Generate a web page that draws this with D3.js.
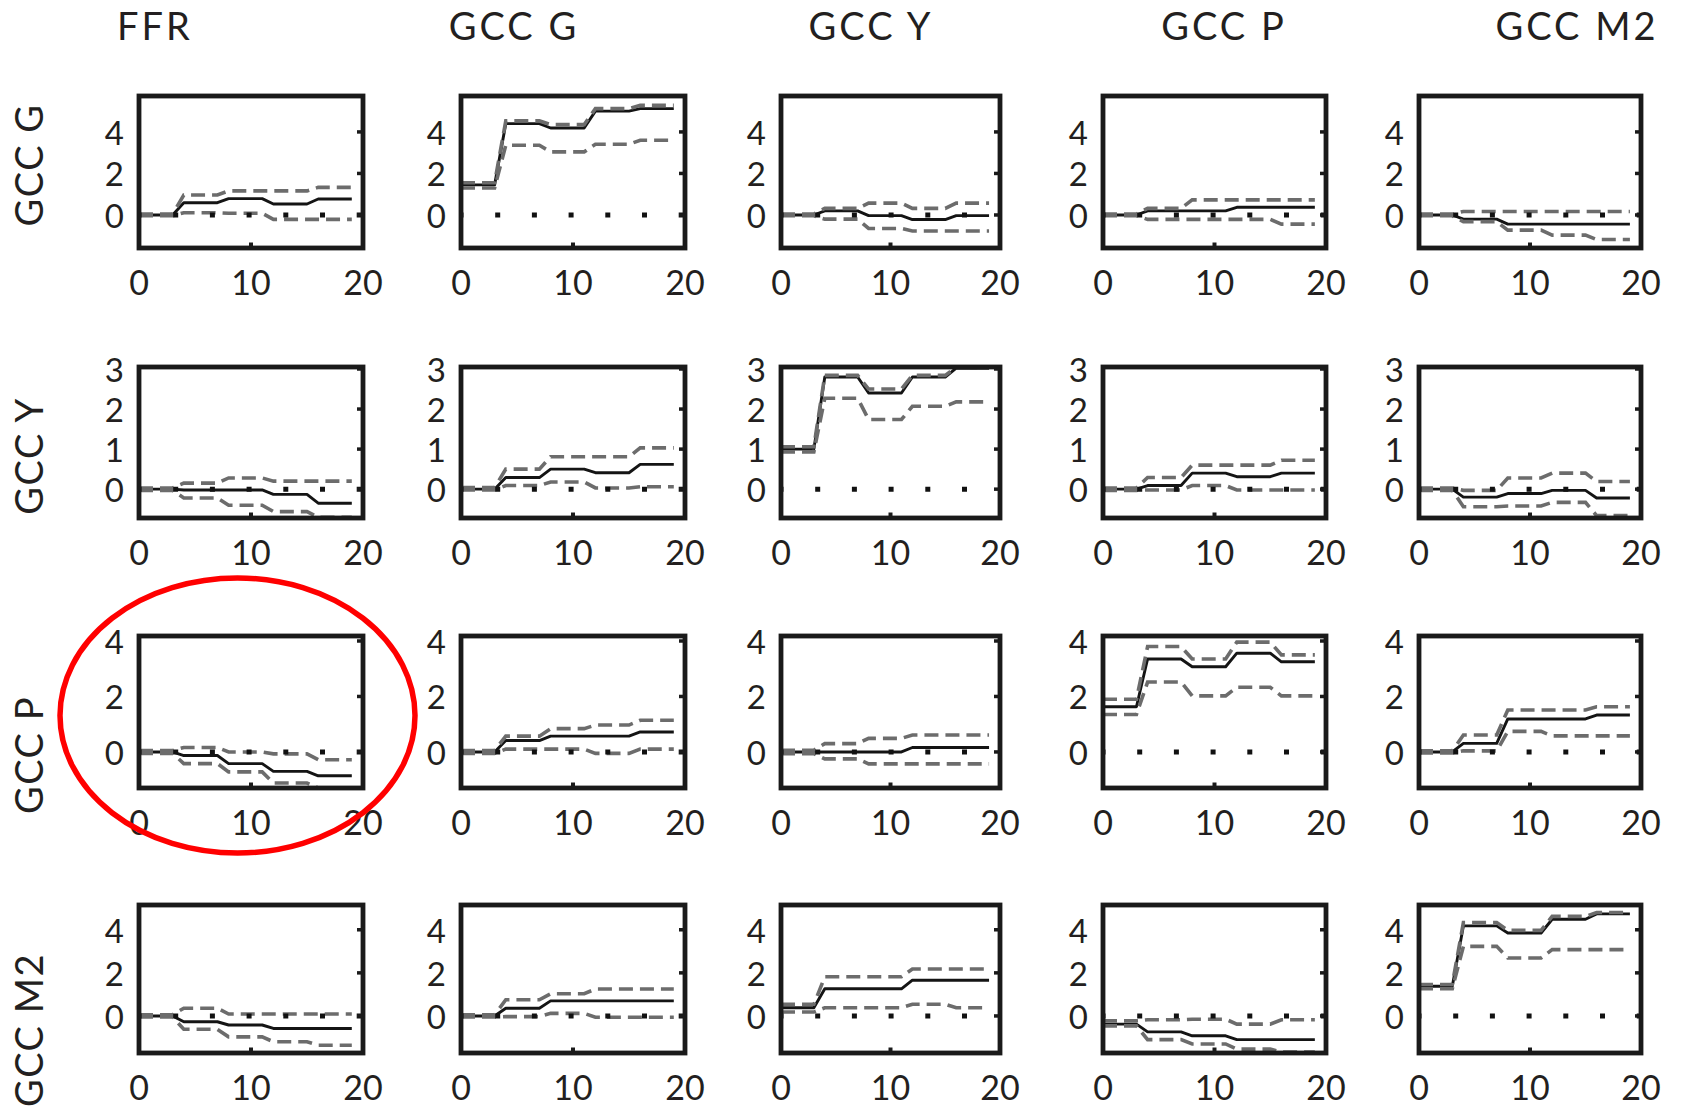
<!DOCTYPE html>
<html><head><meta charset="utf-8">
<script src="https://cdn.jsdelivr.net/npm/d3@7"></script>
<style>
body{margin:0;background:#fff}
svg{display:block}
text{font-family:Lato,"Open Sans",sans-serif;fill:#231f20}
</style>
</head><body>
<svg id="chart" width="1682" height="1113"></svg>
<script>
// ---------------- data ----------------
const shockLabels = ["FFR", "GCC G", "GCC Y", "GCC P", "GCC M2"];
const responseLabels = ["GCC G", "GCC Y", "GCC P", "GCC M2"];
const horizons = [0,1,2,3,4,5,6,7,8,9,10,11,12,13,14,15,16,17,18,19];
const xTicks = [0, 10, 20];
const yTicksByRow = [[0,2,4],[0,1,2,3],[0,2,4],[0,2,4]];
const yDomainByRow = [[-1.59,5.73],[-0.72,3.05],[-1.3,4.18],[-1.72,5.15]];

// median responses, panel order: row (response) by column (shock)
const irfMid = [
 [0,0,0,0,0.59,0.59,0.59,0.59,0.79,0.79,0.79,0.79,0.53,0.53,0.53,0.53,0.77,0.77,0.77,0.77],
 [1.45,1.45,1.45,1.45,4.4,4.4,4.4,4.4,4.19,4.19,4.19,4.19,5.0,5.0,5.0,5.0,5.12,5.12,5.12,5.12],
 [0,0,0,0,0.2,0.2,0.2,0.2,-0.03,-0.03,-0.03,-0.03,-0.22,-0.22,-0.22,-0.22,-0.03,-0.03,-0.03,-0.03],
 [0,0,0,0,0.2,0.2,0.2,0.2,0.2,0.2,0.2,0.2,0.37,0.37,0.37,0.37,0.37,0.37,0.37,0.37],
 [0,0,0,0,-0.2,-0.2,-0.2,-0.2,-0.44,-0.44,-0.44,-0.44,-0.44,-0.44,-0.44,-0.44,-0.44,-0.44,-0.44,-0.44],
 [0,0,0,0,-0.02,-0.02,-0.02,-0.02,-0.02,-0.02,-0.02,-0.02,-0.13,-0.13,-0.13,-0.13,-0.35,-0.35,-0.35,-0.35],
 [0,0,0,0,0.29,0.29,0.29,0.29,0.5,0.5,0.5,0.5,0.41,0.41,0.41,0.41,0.62,0.62,0.62,0.62],
 [1.0,1.0,1.0,1.0,2.8,2.8,2.8,2.8,2.4,2.4,2.4,2.4,2.8,2.8,2.8,2.8,3.02,3.02,3.02,3.02],
 [0,0,0,0,0.09,0.09,0.09,0.09,0.4,0.4,0.4,0.4,0.31,0.31,0.31,0.31,0.4,0.4,0.4,0.4],
 [0,0,0,0,-0.2,-0.2,-0.2,-0.2,-0.11,-0.11,-0.11,-0.11,-0.03,-0.03,-0.03,-0.03,-0.22,-0.22,-0.22,-0.22],
 [0,0,0,0,-0.13,-0.13,-0.13,-0.13,-0.42,-0.42,-0.42,-0.42,-0.7,-0.7,-0.7,-0.7,-0.86,-0.86,-0.86,-0.86],
 [0,0,0,0,0.41,0.41,0.41,0.41,0.57,0.57,0.57,0.57,0.57,0.57,0.57,0.57,0.72,0.72,0.72,0.72],
 [0,0,0,0,0,0,0,0,0,0,0,0,0.16,0.16,0.16,0.16,0.16,0.16,0.16,0.16],
 [1.63,1.63,1.63,1.63,3.35,3.35,3.35,3.35,3.07,3.07,3.07,3.07,3.56,3.56,3.56,3.56,3.25,3.25,3.25,3.25],
 [0,0,0,0,0.31,0.31,0.31,0.31,1.19,1.19,1.19,1.19,1.19,1.19,1.19,1.19,1.33,1.33,1.33,1.33],
 [0,0,0,0,-0.27,-0.27,-0.27,-0.27,-0.42,-0.42,-0.42,-0.42,-0.58,-0.58,-0.58,-0.58,-0.58,-0.58,-0.58,-0.58],
 [0,0,0,0,0.36,0.36,0.36,0.36,0.7,0.7,0.7,0.7,0.7,0.7,0.7,0.7,0.7,0.7,0.7,0.7],
 [0.38,0.38,0.38,0.38,1.26,1.26,1.26,1.26,1.26,1.26,1.26,1.26,1.66,1.66,1.66,1.66,1.66,1.66,1.66,1.66],
 [-0.38,-0.38,-0.38,-0.38,-0.74,-0.74,-0.74,-0.74,-0.92,-0.92,-0.92,-0.92,-1.1,-1.1,-1.1,-1.1,-1.1,-1.1,-1.1,-1.1],
 [1.38,1.38,1.38,1.38,4.18,4.18,4.18,4.18,3.85,3.85,3.85,3.85,4.49,4.49,4.49,4.49,4.74,4.74,4.74,4.74]
];

// upper bands
const irfUpper = [
 [0.04,0.04,0.04,0.04,0.96,0.96,0.96,0.96,1.16,1.16,1.16,1.16,1.16,1.16,1.16,1.16,1.33,1.33,1.33,1.33],
 [1.55,1.55,1.55,1.55,4.53,4.53,4.53,4.53,4.35,4.35,4.35,4.35,5.12,5.12,5.12,5.12,5.28,5.28,5.28,5.28],
 [0.04,0.04,0.04,0.04,0.32,0.32,0.32,0.32,0.57,0.57,0.57,0.57,0.32,0.32,0.32,0.32,0.57,0.57,0.57,0.57],
 [0.04,0.04,0.04,0.04,0.32,0.32,0.32,0.32,0.73,0.73,0.73,0.73,0.73,0.73,0.73,0.73,0.73,0.73,0.73,0.73],
 [0.04,0.04,0.04,0.04,0.17,0.17,0.17,0.17,0.17,0.17,0.17,0.17,0.17,0.17,0.17,0.17,0.17,0.17,0.17,0.17],
 [0.03,0.03,0.03,0.03,0.15,0.15,0.15,0.15,0.28,0.28,0.28,0.28,0.2,0.2,0.2,0.2,0.2,0.2,0.2,0.2],
 [0.04,0.04,0.04,0.04,0.5,0.5,0.5,0.5,0.81,0.81,0.81,0.81,0.81,0.81,0.81,0.81,1.03,1.03,1.03,1.03],
 [1.06,1.06,1.06,1.06,2.84,2.84,2.84,2.84,2.5,2.5,2.5,2.5,2.84,2.84,2.84,2.84,3.04,3.04,3.04,3.04],
 [0.03,0.03,0.03,0.03,0.29,0.29,0.29,0.29,0.6,0.6,0.6,0.6,0.6,0.6,0.6,0.6,0.72,0.72,0.72,0.72],
 [0.03,0.03,0.03,0.03,-0.03,-0.03,-0.03,-0.03,0.28,0.28,0.28,0.28,0.4,0.4,0.4,0.4,0.19,0.19,0.19,0.19],
 [0.05,0.05,0.05,0.05,0.16,0.16,0.16,0.16,0,0,0,0,-0.07,-0.07,-0.07,-0.07,-0.28,-0.28,-0.28,-0.28],
 [0.05,0.05,0.05,0.05,0.57,0.57,0.57,0.57,0.84,0.84,0.84,0.84,0.97,0.97,0.97,0.97,1.14,1.14,1.14,1.14],
 [0.06,0.06,0.06,0.06,0.3,0.3,0.3,0.3,0.49,0.49,0.49,0.49,0.61,0.61,0.61,0.61,0.61,0.61,0.61,0.61],
 [1.9,1.9,1.9,1.9,3.8,3.8,3.8,3.8,3.35,3.35,3.35,3.35,3.96,3.96,3.96,3.96,3.5,3.5,3.5,3.5],
 [0.04,0.04,0.04,0.04,0.61,0.61,0.61,0.61,1.51,1.51,1.51,1.51,1.51,1.51,1.51,1.51,1.63,1.63,1.63,1.63],
 [0.05,0.05,0.05,0.05,0.36,0.36,0.36,0.36,0.09,0.09,0.09,0.09,0.09,0.09,0.09,0.09,0.09,0.09,0.09,0.09],
 [0.05,0.05,0.05,0.05,0.75,0.75,0.75,0.75,1.03,1.03,1.03,1.03,1.25,1.25,1.25,1.25,1.25,1.25,1.25,1.25],
 [0.54,0.54,0.54,0.54,1.82,1.82,1.82,1.82,1.82,1.82,1.82,1.82,2.18,2.18,2.18,2.18,2.18,2.18,2.18,2.18],
 [-0.23,-0.23,-0.23,-0.23,-0.18,-0.18,-0.18,-0.18,-0.15,-0.15,-0.15,-0.15,-0.38,-0.38,-0.38,-0.38,-0.18,-0.18,-0.18,-0.18],
 [1.46,1.46,1.46,1.46,4.34,4.34,4.34,4.34,3.97,3.97,3.97,3.97,4.62,4.62,4.62,4.62,4.8,4.8,4.8,4.8]
];

// lower bands
const irfLower = [
 [-0.04,-0.04,-0.04,-0.04,0.11,0.11,0.11,0.11,0.08,0.08,0.08,0.08,-0.21,-0.21,-0.21,-0.21,-0.21,-0.21,-0.21,-0.21],
 [1.3,1.3,1.3,1.3,3.36,3.36,3.36,3.36,3.04,3.04,3.04,3.04,3.41,3.41,3.41,3.41,3.6,3.6,3.6,3.6],
 [-0.04,-0.04,-0.04,-0.04,-0.2,-0.2,-0.2,-0.2,-0.65,-0.65,-0.65,-0.65,-0.77,-0.77,-0.77,-0.77,-0.77,-0.77,-0.77,-0.77],
 [-0.04,-0.04,-0.04,-0.04,-0.21,-0.21,-0.21,-0.21,-0.21,-0.21,-0.21,-0.21,-0.21,-0.21,-0.21,-0.21,-0.44,-0.44,-0.44,-0.44],
 [-0.04,-0.04,-0.04,-0.04,-0.32,-0.32,-0.32,-0.32,-0.73,-0.73,-0.73,-0.73,-0.97,-0.97,-0.97,-0.97,-1.18,-1.18,-1.18,-1.18],
 [-0.03,-0.03,-0.03,-0.03,-0.22,-0.22,-0.22,-0.22,-0.4,-0.4,-0.4,-0.4,-0.56,-0.56,-0.56,-0.56,-0.7,-0.7,-0.7,-0.7],
 [-0.02,-0.02,-0.02,-0.02,0.09,0.09,0.09,0.09,0.18,0.18,0.18,0.18,0.03,0.03,0.03,0.03,0.06,0.06,0.06,0.06],
 [0.93,0.93,0.93,0.93,2.27,2.27,2.27,2.27,1.74,1.74,1.74,1.74,2.07,2.07,2.07,2.07,2.18,2.18,2.18,2.18],
 [-0.03,-0.03,-0.03,-0.03,-0.02,-0.02,-0.02,-0.02,0.09,0.09,0.09,0.09,-0.02,-0.02,-0.02,-0.02,-0.02,-0.02,-0.02,-0.02],
 [-0.03,-0.03,-0.03,-0.03,-0.44,-0.44,-0.44,-0.44,-0.42,-0.42,-0.42,-0.42,-0.33,-0.33,-0.33,-0.33,-0.66,-0.66,-0.66,-0.66],
 [-0.05,-0.05,-0.05,-0.05,-0.42,-0.42,-0.42,-0.42,-0.72,-0.72,-0.72,-0.72,-1.12,-1.12,-1.12,-1.12,-1.3,-1.3,-1.3,-1.3],
 [-0.05,-0.05,-0.05,-0.05,0.1,0.1,0.1,0.1,0.1,0.1,0.1,0.1,-0.05,-0.05,-0.05,-0.05,0.1,0.1,0.1,0.1],
 [-0.06,-0.06,-0.06,-0.06,-0.25,-0.25,-0.25,-0.25,-0.43,-0.43,-0.43,-0.43,-0.43,-0.43,-0.43,-0.43,-0.43,-0.43,-0.43,-0.43],
 [1.35,1.35,1.35,1.35,2.52,2.52,2.52,2.52,2.02,2.02,2.02,2.02,2.33,2.33,2.33,2.33,2.02,2.02,2.02,2.02],
 [-0.04,-0.04,-0.04,-0.04,0.04,0.04,0.04,0.04,0.74,0.74,0.74,0.74,0.58,0.58,0.58,0.58,0.58,0.58,0.58,0.58],
 [-0.05,-0.05,-0.05,-0.05,-0.62,-0.62,-0.62,-0.62,-0.97,-0.97,-0.97,-0.97,-1.2,-1.2,-1.2,-1.2,-1.36,-1.36,-1.36,-1.36],
 [-0.05,-0.05,-0.05,-0.05,-0.03,-0.03,-0.03,-0.03,0.12,0.12,0.12,0.12,-0.06,-0.06,-0.06,-0.06,-0.06,-0.06,-0.06,-0.06],
 [0.18,0.18,0.18,0.18,0.38,0.38,0.38,0.38,0.38,0.38,0.38,0.38,0.54,0.54,0.54,0.54,0.38,0.38,0.38,0.38],
 [-0.46,-0.46,-0.46,-0.46,-1.1,-1.1,-1.1,-1.1,-1.3,-1.3,-1.3,-1.3,-1.54,-1.54,-1.54,-1.54,-1.68,-1.68,-1.68,-1.68],
 [1.26,1.26,1.26,1.26,3.23,3.23,3.23,3.23,2.69,2.69,2.69,2.69,3.08,3.08,3.08,3.08,3.08,3.08,3.08,3.08]
];

// ---------------- layout ----------------
const colLeft  = [139, 461, 781, 1103, 1419];
const colRight = [363, 685, 1000, 1326, 1641];
const rowTop    = [96, 367, 636, 905];
const rowBottom = [248, 518, 788, 1053];
const titleX = [155, 514, 871, 1224, 1577];
const rowLabelY = [165, 456, 755, 1030];

const svg = d3.select("#chart");
const defs = svg.append("defs");

// column titles
svg.selectAll("text.coltitle").data(shockLabels).join("text")
  .attr("class","coltitle")
  .attr("x",(d,i)=>titleX[i]).attr("y",40)
  .attr("text-anchor","middle")
  .style("font-size","38px").style("letter-spacing","3px")
  .text(d=>d);

// row labels
svg.selectAll("text.rowlabel").data(responseLabels).join("text")
  .attr("class","rowlabel")
  .attr("transform",(d,i)=>`translate(43,${rowLabelY[i]}) rotate(-90)`)
  .attr("text-anchor","middle")
  .style("font-size","38px").style("letter-spacing","1.5px")
  .text(d=>d);

const lineGen = (x,y) => d3.line().x((d,i)=>x(horizons[i])).y(d=>y(d));

for (let r = 0; r < responseLabels.length; r++) {
  for (let c = 0; c < shockLabels.length; c++) {
    const p = r*shockLabels.length + c;
    const L = colLeft[c], R = colRight[c], T = rowTop[r], B = rowBottom[r];
    const x = d3.scaleLinear().domain([0,20]).range([L,R]);
    const y = d3.scaleLinear().domain(yDomainByRow[r]).range([B,T]);
    const g = svg.append("g");
    const cid = `clip${p}`;
    defs.append("clipPath").attr("id",cid).append("rect")
      .attr("x",L).attr("y",T).attr("width",R-L).attr("height",B-T);
    const plot = g.append("g").attr("clip-path",`url(#${cid})`);
    const lg = lineGen(x,y);

    plot.append("path").attr("d",lg(irfMid[p]))
      .attr("fill","none").attr("stroke","#141414").attr("stroke-width",2.9)
      .attr("stroke-linejoin","round");
    [irfUpper[p], irfLower[p]].forEach(s=>{
      plot.append("path").attr("d",lg(s))
        .attr("fill","none").attr("stroke","#6c6c6c").attr("stroke-width",3.6)
        .attr("stroke-dasharray","14,7");
    });
    // dotted zero line
    plot.append("line")
      .attr("x1",x(0)).attr("x2",x(20)).attr("y1",y(0)).attr("y2",y(0))
      .attr("stroke","#111").attr("stroke-width",5)
      .attr("stroke-dasharray","5,31.7").attr("stroke-dashoffset",2.5);

    // frame
    g.append("rect").attr("x",L).attr("y",T).attr("width",R-L).attr("height",B-T)
      .attr("fill","none").attr("stroke","#1a1a1a").attr("stroke-width",4.8);

    // inner ticks (right and bottom)
    const yt = yTicksByRow[r];
    g.selectAll("line.rt").data(yt).join("line")
      .attr("x1",R).attr("x2",R-6).attr("y1",d=>y(d)).attr("y2",d=>y(d))
      .attr("stroke","#1a1a1a").attr("stroke-width",3.5);
    g.selectAll("line.bt").data(xTicks).join("line")
      .attr("x1",d=>x(d)).attr("x2",d=>x(d)).attr("y1",B).attr("y2",B-5.5)
      .attr("stroke","#1a1a1a").attr("stroke-width",4);

    // y tick labels
    g.selectAll("text.yl").data(yt).join("text")
      .attr("x",L-15).attr("y",d=>y(d))
      .attr("text-anchor","end").attr("dominant-baseline","central")
      .style("font-size","33px").text(d=>d);
    // x tick labels
    g.selectAll("text.xl").data(xTicks).join("text")
      .attr("x",d=>x(d)).attr("y",B+47)
      .attr("text-anchor","middle")
      .style("font-size","34px").text(d=>d);
  }
}

// red highlight ellipse around the FFR -> GCC P panel
svg.append("ellipse")
  .attr("cx",237.5).attr("cy",715.5).attr("rx",177.5).attr("ry",137.5)
  .attr("fill","none").attr("stroke","#ff0000").attr("stroke-width",5.5);
</script>
</body></html>
